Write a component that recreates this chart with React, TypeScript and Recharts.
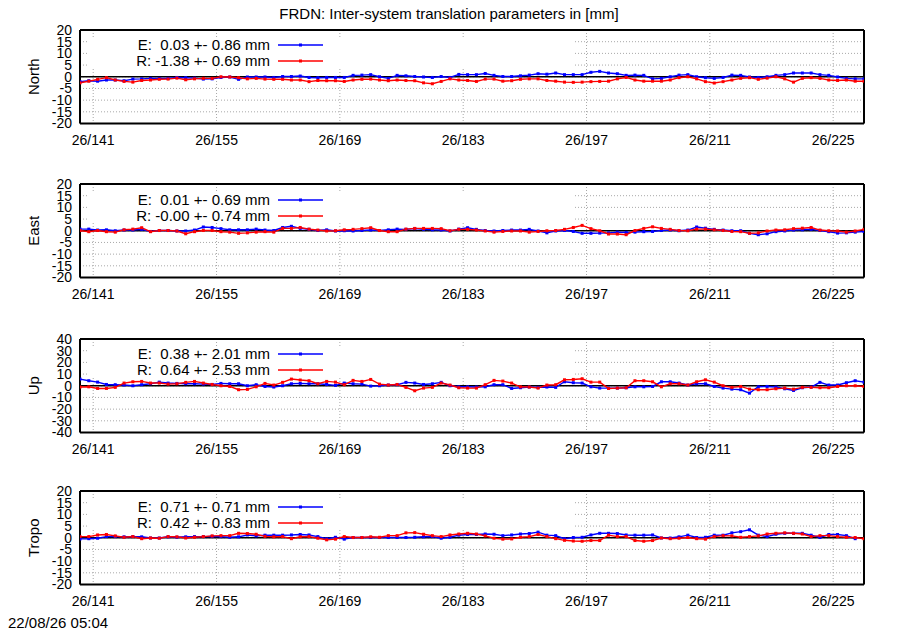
import { CartesianGrid, Legend, Line, LineChart, ReferenceLine, XAxis, YAxis } from 'recharts'

const FONT = '"Liberation Sans", Arial, Helvetica, sans-serif'
const BLUE = '#0000ff'
const RED = '#ff0000'
const GRID = '#a8a8a8'

const TITLE = 'FRDN: Inter-system translation parameters in [mm]'
const STAMP = '22/08/26 05:04'

// daily solutions, plotted at noon of each day-of-year
const FIRST_DAY = 139.5
const DAY_COUNT = 90
const X_DOMAIN = [139.5, 228.5]
const MAJOR_TICKS = [141, 155, 169, 183, 197, 211, 225]
const MINOR_TICKS = [148, 162, 176, 190, 204, 218]
const TICKS_20 = [-20, -15, -10, -5, 0, 5, 10, 15, 20]
const TICKS_40 = [-40, -30, -20, -10, 0, 10, 20, 30, 40]

const NORTH_E = [
	-2.1, -1.7, -1.9, -1.4, -1.4, -1.7, -1.0, -0.9, -0.7, -0.7, -0.7, -0.3, -0.4, -0.6, -1.0, -0.9, -0.3, -0.1, -1.1, -0.1,
	-0.1, -0.1, -0.3, 0.1, 0.1, 0.3, -0.3, -0.4, -0.3, -0.3, -0.3, 0.6, 0.7, 0.9, 0.0, -0.7, 0.6, 0.4, 0.1, -0.1,
	-0.3, 0.1, -0.3, 1.0, 0.9, 0.9, 1.4, 0.6, 0.1, 0.1, 0.4, 0.7, 1.3, 1.1, 1.6, 0.9, 0.9, 0.9, 1.9, 2.3,
	1.6, 1.3, 0.6, 0.7, 0.6, -0.9, -0.7, 0.0, 0.7, 0.9, 0.0, -0.4, -0.7, -0.3, 0.7, 0.6, -0.1, -0.3, 0.0, 0.6,
	0.9, 1.6, 1.6, 1.6, 0.9, 0.6, -0.1, -0.7, -0.9, -0.9,
]
const NORTH_R = [
	-2.6, -1.9, -1.1, -0.4, -1.4, -2.0, -2.3, -1.6, -1.4, -1.1, -1.0, -0.6, -1.3, -0.9, -0.7, -0.7, 0.0, -0.1, -0.4, -0.9,
	-0.7, -1.0, -1.1, -1.1, -1.4, -1.4, -2.1, -1.6, -1.7, -1.7, -2.0, -1.4, -1.1, -1.0, -1.4, -1.7, -1.4, -1.6, -1.7, -2.6,
	-3.0, -2.0, -0.9, -1.4, -1.6, -2.0, -1.0, -1.0, -1.9, -1.7, -1.1, -0.9, -0.9, -1.6, -1.9, -2.3, -2.4, -2.3, -2.1, -2.0,
	-1.9, -0.9, -0.3, -1.4, -1.9, -1.9, -1.9, -1.4, -0.4, 0.0, -0.9, -2.1, -2.7, -2.1, -1.4, -0.7, -0.4, -1.1, -0.6, 0.0,
	-0.9, -2.3, -0.7, -0.4, -0.7, -1.4, -1.6, -1.4, -1.9, -1.9,
]
const EAST_E = [
	0.7, 0.7, 0.3, 0.4, 0.0, 0.3, 0.3, 0.6, -0.3, 0.1, 0.1, -0.1, -0.1, 0.3, 1.6, 1.4, 0.9, 0.4, 0.4, 0.4,
	0.7, 0.3, 0.1, 1.4, 1.9, 1.0, 0.6, 0.1, 0.4, -0.1, 0.0, -0.1, 0.1, 0.3, 0.1, 0.4, 0.7, 0.6, 0.9, 0.6,
	0.4, 0.3, -0.1, 0.7, 1.3, 0.6, 0.1, -0.1, 0.1, 0.3, 0.3, 0.6, -0.1, -0.9, -0.1, 0.1, -0.3, -1.1, -1.1, -1.0,
	-0.9, -0.6, -0.7, -0.6, -0.4, -0.3, 0.1, 0.3, 0.0, 0.3, 1.6, 1.1, 0.6, 0.3, 0.0, 0.0, -1.1, -1.7, -1.3, -0.4,
	-0.1, 0.3, 0.4, 0.6, 0.1, -0.4, -1.0, -0.9, -0.6, -0.3,
]
const EAST_R = [
	0.1, -0.4, 0.1, -0.4, -0.6, 0.4, 0.7, 1.3, -0.4, 0.1, 0.1, -0.1, -1.3, -0.4, 0.1, 0.1, -0.4, -0.6, -1.1, -0.9,
	-0.6, -0.4, -0.6, 1.0, 1.0, 1.4, 0.7, 0.3, -0.1, 0.0, 0.4, 0.6, 0.9, 1.3, 0.1, -0.4, -0.4, 0.7, 1.0, 1.0,
	1.0, 0.9, 0.0, 0.6, 0.6, 0.3, -0.1, -0.6, -0.3, -0.1, -0.1, -0.6, -0.3, 0.0, 0.1, 0.6, 1.4, 2.3, 0.9, 0.0,
	-1.4, -1.4, -1.7, 0.1, 1.0, 1.7, 1.0, 0.6, 0.1, 0.0, 0.7, 0.7, 0.4, 0.1, -0.3, -0.4, -1.1, -0.9, -0.1, 0.3,
	0.4, 0.9, 1.1, 1.4, 0.3, 0.0, -0.1, -0.6, -0.1, 0.6,
]
const UP_E = [
	5.7, 4.3, 3.1, 1.1, 0.9, 0.6, 0.0, 0.9, 1.7, 3.1, 2.3, 2.0, 1.7, 1.7, 1.4, 1.1, 2.0, 1.7, 1.7, 0.0,
	0.9, -0.6, -1.1, 0.0, 1.7, 2.0, 1.7, 1.7, 1.1, 0.3, 2.3, 1.7, 1.4, -0.3, 0.0, 0.6, 0.9, 2.9, 2.3, 1.1,
	1.7, 2.9, 0.0, -0.9, -0.9, -1.1, -0.9, 0.9, 0.9, -2.3, -1.7, -1.1, -1.4, -1.1, -1.4, 3.4, 2.6, 2.3, -0.9, -2.0,
	-2.0, -2.0, -1.7, -0.9, -0.9, -0.6, 3.4, 3.4, 2.3, 0.6, 1.7, 1.7, -0.6, -2.0, -2.9, -3.4, -6.3, -0.9, -0.6, -1.1,
	-2.6, -4.0, -1.7, -1.1, 2.9, 0.6, 0.6, 2.6, 4.3, 3.1,
]
const UP_R = [
	-1.1, -0.9, -2.3, -2.3, -1.4, 2.3, 3.4, 3.7, 2.3, 2.3, 1.4, 1.7, 2.9, 3.7, 2.3, 1.1, 0.0, -0.6, -3.4, -3.1,
	-0.9, 2.0, 0.6, 2.9, 5.7, 4.9, 4.3, 1.7, 3.7, 3.1, 0.9, 4.6, 3.7, 5.4, 1.4, 0.6, 1.1, -1.4, -4.3, -2.0,
	-1.4, 2.3, 0.6, -1.7, -2.0, -2.0, 0.9, 4.6, 4.0, 2.3, -0.9, -1.1, -2.0, 0.6, 0.9, 5.1, 5.4, 6.0, 3.1, 3.1,
	-2.3, -2.0, -1.7, 4.3, 4.3, 3.4, -0.9, 1.7, 1.7, 0.6, 3.4, 5.1, 3.1, 0.0, -1.4, -0.6, -2.9, -3.4, -3.4, -2.6,
	-2.0, -2.9, -1.4, -1.4, -1.7, -1.7, -0.6, 0.0, 0.0, -0.6,
]
const TROPO_E = [
	-0.5, -0.4, -0.2, 0.5, 0.5, 0.4, 0.5, 0.4, -0.1, -0.1, 0.4, 0.2, 0.4, 0.5, 0.5, 0.6, 0.5, 0.2, 0.4, 1.2,
	0.8, 1.1, 1.1, 1.1, 1.2, 1.4, 1.2, 0.5, -0.4, 0.2, -0.6, 0.1, 0.1, 0.1, 0.1, 0.1, 0.1, 0.1, 0.2, 0.4,
	0.5, -0.2, 0.2, 1.1, 1.4, 1.4, 1.6, 1.5, 0.9, 1.2, 1.6, 1.8, 2.4, 1.1, 0.9, -0.4, 0.1, 0.2, 1.2, 1.9,
	1.9, 1.8, 1.2, 1.1, 1.1, 1.2, -0.1, -0.1, 0.4, 1.1, 0.1, 0.2, 1.1, 1.1, 2.1, 2.6, 3.4, 1.1, 0.5, 1.5,
	1.9, 1.9, 1.9, 1.1, 0.1, 1.4, 1.4, 0.9, -0.4, null,
]
const TROPO_R = [
	0.5, 0.5, 1.2, 1.4, 0.8, 0.2, 0.5, -0.4, -0.1, -0.2, 0.5, 0.4, -0.1, 0.2, 0.5, 0.8, 0.9, 0.9, 1.9, 1.8,
	1.5, 0.6, 0.4, 0.5, -0.4, 0.4, 0.5, -0.2, -0.9, -0.6, 0.5, 0.1, 0.1, 0.4, 0.2, 0.9, 0.9, 2.1, 2.2, 1.5,
	0.9, 0.5, 1.2, 1.6, 1.9, 1.6, 0.8, -0.2, -0.6, -0.5, 0.2, 0.5, 1.4, 0.5, -0.4, -1.1, -1.4, -1.5, -1.2, -1.2,
	1.1, 0.5, 0.5, -1.2, -1.5, -1.2, -0.1, -0.4, -0.2, 0.1, -0.4, -0.6, 0.5, 0.9, 0.8, 0.2, 0.5, 0.8, 1.6, 1.9,
	2.1, 1.9, 1.6, 0.5, 0.9, 0.9, 0.5, 0.2, 0.1, -0.4,
]

const NORTH_KEY = ['E:  0.03 +- 0.86 mm', 'R: -1.38 +- 0.69 mm']
const EAST_KEY = ['E:  0.01 +- 0.69 mm', 'R: -0.00 +- 0.74 mm']
const UP_KEY = ['E:  0.38 +- 2.01 mm', 'R:  0.64 +- 2.53 mm']
const TROPO_KEY = ['E:  0.71 +- 0.71 mm', 'R:  0.42 +- 0.83 mm']

// layout of the four stacked plots
const PLOT_TOPS = [29.5, 184, 338.5, 491]
const PLOT_H = 93.5
const MT = 10
const AXIS_H = 30

type Row = { day: number; e: number | null; r: number | null }

const toRows = (e: (number | null)[], r: (number | null)[]): Row[] =>
	Array.from({ length: DAY_COUNT }, (_, i) => ({ day: FIRST_DAY + i, e: e[i] ?? null, r: r[i] ?? null }))

const axisTitle = (text: string) => (props: any) => {
	const vb = props.viewBox
	const cx = vb.x + 33
	const cy = vb.y + vb.height / 2
	return (
		<text
			x={cx}
			y={cy}
			transform={`rotate(-90 ${cx} ${cy})`}
			textAnchor="middle"
			dominantBaseline="central"
			fontFamily={FONT}
			fontSize={15}
			fill="#000"
		>
			{text}
		</text>
	)
}

// small filled squares, like gnuplot's point type 5
const squareDot = (color: string) => (p: any) => {
	if (p.cx == null || p.cy == null || p.value == null) return <g key={`d-${p.index}`} />
	return <rect key={`d-${p.index}`} x={p.cx - 1.5} y={p.cy - 1.5} width={3} height={3} fill={color} />
}

// gnuplot-style opaque key box
const KeyBox = ({ lines }: { lines: string[] }) => (
	<div style={{ position: 'relative', width: '100%', height: '100%', background: '#fff', fontFamily: FONT, fontSize: 15, color: '#000' }}>
		{lines.map((text, i) => {
			const color = i === 0 ? BLUE : RED
			return (
				<div key={text} style={{ position: 'absolute', left: 0, top: 7 + i * 16 - 9, width: 240, height: 18, lineHeight: '18px' }}>
					<span style={{ position: 'absolute', right: 240 - 181.5, whiteSpace: 'pre' }}>{text}</span>
					<svg style={{ position: 'absolute', left: 189.5, top: 0 }} width={46} height={18}>
						<line x1={0} x2={45} y1={9} y2={9} stroke={color} strokeWidth={1.4} />
						<rect x={21} y={7.5} width={3} height={3} fill={color} />
					</svg>
				</div>
			)
		})}
	</div>
)

type PanelProps = { name: string; rows: Row[]; yTicks: number[]; keyLines: string[]; top: number }

const Panel = ({ name, rows, yTicks, keyLines, top }: PanelProps) => {
	const yDomain = [yTicks[0], yTicks[yTicks.length - 1]]
	const frame = { stroke: '#000', strokeWidth: 2 }
	const tickLine = { stroke: '#000', strokeWidth: 1 }
	return (
		<div style={{ position: 'absolute', left: 0, top: top - MT }}>
			<LineChart width={900} height={MT + PLOT_H + AXIS_H} data={rows} margin={{ top: MT, right: 36, bottom: 0, left: 0 }}>
				<CartesianGrid stroke={GRID} strokeDasharray="1 2" />
				<XAxis
					dataKey="day"
					type="number"
					domain={X_DOMAIN}
					allowDataOverflow
					ticks={MAJOR_TICKS}
					interval={0}
					tickFormatter={(v) => `26/${v}`}
					tickLine={false}
					axisLine={false}
					tickSize={0}
					tickMargin={12}
					height={AXIS_H}
					tick={{ fill: '#000', fontSize: 14, fontFamily: FONT }}
				/>
				<XAxis xAxisId="bMaj" orientation="bottom" mirror type="number" domain={X_DOMAIN} allowDataOverflow ticks={MAJOR_TICKS} interval={0} tick={false} tickSize={8} tickLine={tickLine} axisLine={frame} />
				<XAxis xAxisId="bMin" orientation="bottom" mirror type="number" domain={X_DOMAIN} allowDataOverflow ticks={MINOR_TICKS} interval={0} tick={false} tickSize={4} tickLine={tickLine} axisLine={false} />
				<XAxis xAxisId="tMaj" orientation="top" mirror type="number" domain={X_DOMAIN} allowDataOverflow ticks={MAJOR_TICKS} interval={0} tick={false} tickSize={8} tickLine={tickLine} axisLine={frame} />
				<XAxis xAxisId="tMin" orientation="top" mirror type="number" domain={X_DOMAIN} allowDataOverflow ticks={MINOR_TICKS} interval={0} tick={false} tickSize={4} tickLine={tickLine} axisLine={false} />
				<YAxis
					type="number"
					domain={yDomain}
					allowDataOverflow
					ticks={yTicks}
					interval={0}
					width={80}
					tickLine={false}
					axisLine={frame}
					tickSize={0}
					tickMargin={8}
					tick={{ fill: '#000', fontSize: 14, fontFamily: FONT }}
					label={axisTitle(name)}
				/>
				<YAxis yAxisId="lTick" orientation="left" mirror type="number" domain={yDomain} allowDataOverflow ticks={yTicks} interval={0} tick={false} tickSize={8} tickLine={tickLine} axisLine={false} />
				<YAxis yAxisId="rTick" orientation="right" mirror type="number" domain={yDomain} allowDataOverflow ticks={yTicks} interval={0} tick={false} tickSize={8} tickLine={tickLine} axisLine={frame} />
				<ReferenceLine y={0} stroke="#000" strokeWidth={1.3} />
				<Legend
					verticalAlign="middle"
					align="center"
					layout="horizontal"
					wrapperStyle={{ left: 88.5, top: MT + 8.5, width: 484.5, height: 29.5 }}
					content={() => <KeyBox lines={keyLines} />}
				/>
				<Line dataKey="e" stroke={BLUE} strokeWidth={1.4} dot={squareDot(BLUE)} activeDot={false} isAnimationActive={false} />
				<Line dataKey="r" stroke={RED} strokeWidth={1.4} dot={squareDot(RED)} activeDot={false} isAnimationActive={false} />
			</LineChart>
		</div>
	)
}

export default function App() {
	const panels = [
		{ name: 'North', rows: toRows(NORTH_E, NORTH_R), yTicks: TICKS_20, keyLines: NORTH_KEY },
		{ name: 'East', rows: toRows(EAST_E, EAST_R), yTicks: TICKS_20, keyLines: EAST_KEY },
		{ name: 'Up', rows: toRows(UP_E, UP_R), yTicks: TICKS_40, keyLines: UP_KEY },
		{ name: 'Tropo', rows: toRows(TROPO_E, TROPO_R), yTicks: TICKS_20, keyLines: TROPO_KEY },
	]
	return (
		<div style={{ position: 'absolute', left: 0, top: 0, width: 900, height: 630, background: '#fff', fontFamily: FONT }}>
			<svg width={900} height={630} style={{ position: 'absolute', left: 0, top: 0 }}>
				<text x={449} y={19} textAnchor="middle" fontFamily={FONT} fontSize={15} fill="#000">
					{TITLE}
				</text>
				<text x={8} y={628} fontFamily={FONT} fontSize={15} fill="#000">
					{STAMP}
				</text>
			</svg>
			{panels.map((p, i) => (
				<Panel key={p.name} {...p} top={PLOT_TOPS[i]} />
			))}
		</div>
	)
}
